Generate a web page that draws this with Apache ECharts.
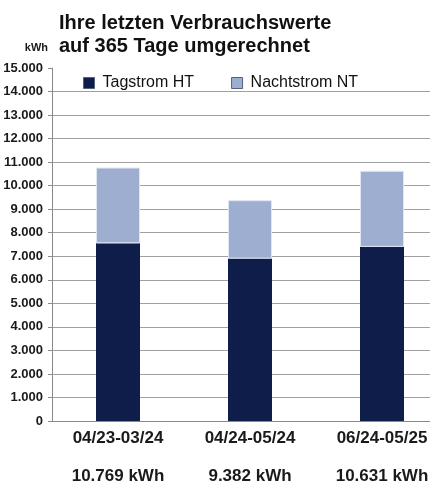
<!DOCTYPE html>
<html>
<head>
<meta charset="utf-8">
<script src="https://cdn.jsdelivr.net/npm/echarts@6/dist/echarts.min.js"></script>
<style>
  html, body { margin: 0; padding: 0; background: #fff; }
  #chart { width: 430px; height: 485px; }
</style>
</head>
<body>
<div id="chart"></div>
<script>
var zeitraeume = ['04/23-03/24', '04/24-05/24', '06/24-05/25'];
var tagstrom = [7550, 6900, 7400];
var nachtstrom = [3219, 2482, 3231];
var summen = ['10.769', '9.382', '10.631'];

var font = '"Liberation Sans", Arial, sans-serif';
var myChart = echarts.init(document.getElementById('chart'));

// Gitterlinien: die oberste (15.000) wird nicht gezeichnet
var gridColors = [];
for (var i = 0; i < 15; i++) gridColors.push('#a0a0a0');
gridColors.push('rgba(0,0,0,0)');

var option = {
    backgroundColor: '#fff',
    animation: false,
    title: {
        text: 'Ihre letzten Verbrauchswerte\nauf 365 Tage umgerechnet',
        left: 54,
        top: 7,
        textStyle: {
            fontFamily: font,
            fontSize: 20,
            fontWeight: 'bold',
            color: '#111',
            lineHeight: 23
        }
    },
    legend: {
        left: 78,
        top: 70,
        icon: 'rect',
        itemWidth: 11,
        itemHeight: 11,
        itemGap: 37,
        itemStyle: { borderColor: '#55607a', borderWidth: 1 },
        data: ['Tagstrom HT', 'Nachtstrom NT'],
        textStyle: {
            fontFamily: font,
            fontSize: 16,
            color: '#111',
            padding: [0, 0, 0, 3]
        }
    },
    grid: {
        left: 52,
        right: -18,
        top: 68,
        bottom: 64,
        outerBoundsMode: 'none'
    },
    xAxis: {
        type: 'category',
        data: zeitraeume,
        axisLine: { lineStyle: { color: '#8a8a8a' } },
        axisTick: { alignWithLabel: true, length: 4, lineStyle: { color: '#8a8a8a' } },
        axisLabel: {
            margin: 8,
            fontFamily: font,
            fontSize: 17,
            fontWeight: 'bold',
            color: '#1a1a1a',
            lineHeight: 19,
            formatter: function (value, idx) {
                return value + '\n\n' + summen[idx] + ' kWh';
            }
        }
    },
    yAxis: {
        type: 'value',
        min: 0,
        max: 15000,
        interval: 1000,
        name: 'kWh',
        nameLocation: 'end',
        nameGap: 15,
        nameTextStyle: {
            fontFamily: font,
            fontSize: 11,
            fontWeight: 'bold',
            color: '#1a1a1a',
            align: 'right',
            verticalAlign: 'bottom',
            padding: [0, 4, 0, 0]
        },
        axisLine: { show: true, lineStyle: { color: '#8a8a8a' } },
        axisTick: { show: true, length: 4, lineStyle: { color: '#8a8a8a' } },
        splitLine: { lineStyle: { color: gridColors } },
        axisLabel: {
            margin: 9,
            fontFamily: font,
            fontSize: 13,
            fontWeight: 'bold',
            color: '#1a1a1a',
            formatter: function (v) {
                return v === 0 ? '0' : (v / 1000).toFixed(3);
            }
        }
    },
    series: [
        {
            name: 'Tagstrom HT',
            type: 'bar',
            stack: 'verbrauch',
            barWidth: 44,
            itemStyle: { color: '#0f1d4b' },
            data: tagstrom
        },
        {
            name: 'Nachtstrom NT',
            type: 'bar',
            stack: 'verbrauch',
            barWidth: 44,
            itemStyle: { color: '#9eaed1', borderColor: '#dfe5f1', borderWidth: 1 },
            data: nachtstrom
        }
    ]
};
myChart.setOption(option);
</script>
</body>
</html>
